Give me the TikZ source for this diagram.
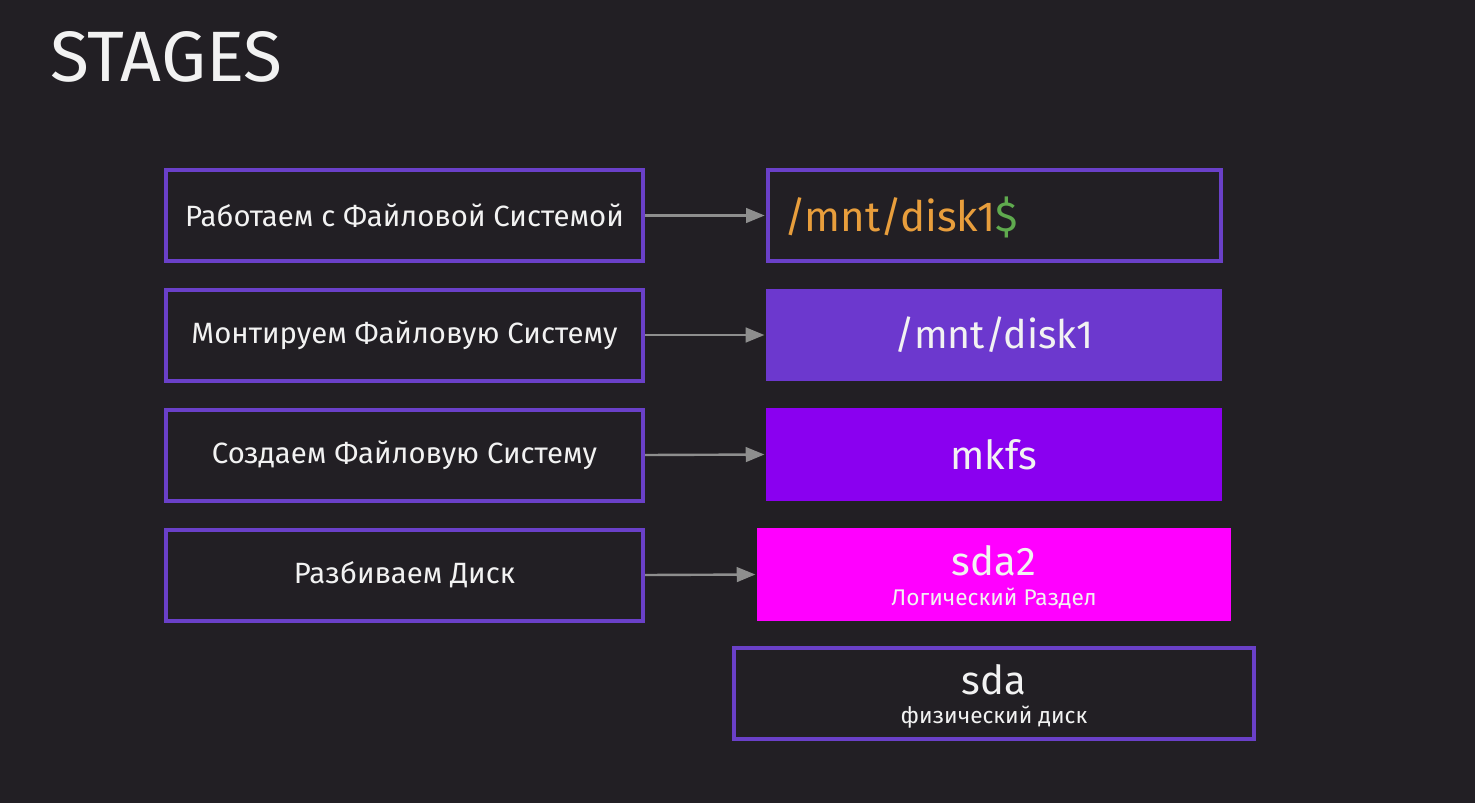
\documentclass[tikz,border=0pt]{standalone}
\usepackage{fontspec}
\setmainfont{Fira Sans}
\usetikzlibrary{arrows.meta}
\definecolor{bg}{HTML}{221F24}
\definecolor{pur}{HTML}{6A40C8}
\definecolor{mntfill}{HTML}{6C38CE}
\definecolor{mkfsfill}{HTML}{8A00F0}
\definecolor{sdafill}{HTML}{FF00FF}
\definecolor{txt}{HTML}{F2F2F2}
\definecolor{orng}{HTML}{E89E3C}
\definecolor{grn}{HTML}{5FAA4E}
\definecolor{arr}{HTML}{8E8E8E}
\tikzset{
  stagebox/.style={draw=pur, line width=3pt, fill=bg, minimum width=357.75pt, minimum height=68.25pt, inner sep=0pt, text=txt, font=\fontsize{22}{26}\selectfont},
  outbox/.style={draw=pur, line width=3pt, fill=bg, inner sep=0pt, text=txt},
  fillbox/.style={draw=none, inner sep=0pt, text=txt},
  bigtxt/.style={inner sep=0pt, text=txt, anchor=base, font=\fontsize{30}{34}\selectfont},
  subtxt/.style={inner sep=0pt, text=txt, anchor=base, font=\fontsize{17}{20}\selectfont},
  conn/.style={draw=arr, line width=1.8pt, -{Triangle[length=14pt,width=11pt]}, shorten >=1pt}
}
\begin{document}
\begin{tikzpicture}[x=0.75pt,y=-0.75pt]
\fill[bg] (0,0) rectangle (1475,803);
\useasboundingbox (0,0) rectangle (1475,803);
\node[anchor=base west, inner sep=0pt, text=txt, font=\fontsize{53.5}{60}\selectfont] (title) at (50,81) {STAGES};
% left stage boxes
\node[stagebox] (l1) at (404.5,215.5) {Работаем с Файловой Системой};
\node[stagebox] (l2) at (404.5,335) {Монтируем Файловую Систему};
\node[stagebox] (l3) at (404.5,455) {Создаем Файловую Систему};
\node[stagebox] (l4) at (404.5,575) {Разбиваем Диск};
% right boxes
\node[outbox, minimum width=339.75pt, minimum height=68.25pt] (r1) at (994.5,215.5) {};
\node[anchor=base west, inner sep=0pt, font=\fontsize{31.5}{36}\selectfont] (r1t) at (784,231) {\textcolor{orng}{/mnt/disk1}\textcolor{grn}{\$}};
\node[fillbox, fill=mntfill, minimum width=342pt, minimum height=69pt, font=\fontsize{29.5}{34}\selectfont] (r2) at (994,335) {/mnt/disk1};
\node[fillbox, fill=mkfsfill, minimum width=342pt, minimum height=69.75pt, font=\fontsize{30}{34}\selectfont] (r3) at (994,454.5) {mkfs};
\node[fillbox, fill=sdafill, minimum width=355.5pt, minimum height=69.75pt] (r4) at (994,574.5) {};
\node[bigtxt] (r4a) at (994,575) {sda2};
\node[subtxt] (r4b) at (994,605) {Логический Раздел};
\node[outbox, minimum width=390pt, minimum height=68.25pt] (r5) at (994,693.5) {};
\node[bigtxt] (r5a) at (994,694) {sda};
\node[subtxt] (r5b) at (994,723) {физический диск};
% connectors
\draw[conn] (l1.east) -- (r1.west);
\draw[conn] (l2.east) -- (r2.west);
\draw[conn] (l3.east) -- (r3.west);
\draw[conn] (l4.east) -- (r4.west);
\end{tikzpicture}
\end{document}
